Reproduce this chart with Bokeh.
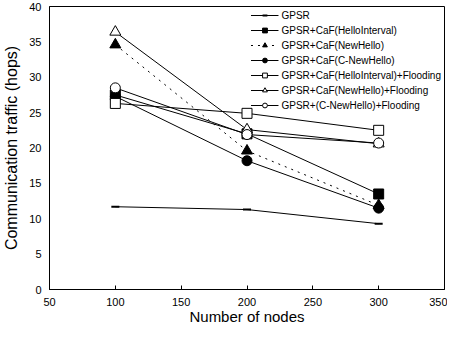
from bokeh.plotting import figure
from bokeh.models import Legend, LegendItem, FixedTicker, Range1d
from bokeh.embed import file_html
from bokeh.resources import INLINE

nodes = [100, 200, 300]
gpsr = [11.7, 11.3, 9.3]
caf_hello = [27.5, 22.0, 13.5]
caf_new = [34.6, 19.6, 11.9]
caf_cnew = [27.3, 18.2, 11.5]
caf_hello_fl = [26.3, 24.9, 22.5]
caf_new_fl = [36.4, 22.6, 20.6]
cnew_fl = [28.5, 21.9, 20.7]

x_ticks = [50, 100, 150, 200, 250, 300, 350]
y_ticks = [0, 5, 10, 15, 20, 25, 30, 35, 40]
x_title = "Number of nodes"
y_title = "Communication traffic (hops)"

FONT = "Liberation Sans"

p = figure(width=447, height=327, output_backend="svg", toolbar_location=None,
           x_range=Range1d(50, 350), y_range=Range1d(0, 40),
           min_border_left=45, min_border_right=3, min_border_top=6, min_border_bottom=36)
p.grid.visible = False
p.outline_line_color = "black"
p.outline_line_width = 1
p.background_fill_color = "white"
p.border_fill_color = "white"

p.xaxis.ticker = FixedTicker(ticks=x_ticks)
p.yaxis.ticker = FixedTicker(ticks=y_ticks)
for ax in (p.xaxis[0], p.yaxis[0]):
    ax.axis_line_color = "black"
    ax.major_label_text_font = FONT
    ax.major_label_text_font_size = "11px"
    ax.major_label_text_color = "black"
    ax.axis_label_text_font = FONT
    ax.axis_label_text_font_size = "16px"
    ax.axis_label_text_font_style = "normal"
    ax.axis_label_text_color = "black"
    ax.minor_tick_line_color = None
p.xaxis.major_tick_in = 4
p.xaxis.major_tick_out = 0
p.xaxis.major_label_standoff = 8
p.xaxis.axis_label_standoff = -1
p.xaxis.axis_label_text_font_size = "15px"
p.yaxis.major_tick_in = 0
p.yaxis.major_tick_out = 0
p.yaxis.major_label_standoff = 8
p.yaxis.axis_label_standoff = 6
p.xaxis.axis_label = x_title
p.yaxis.axis_label = y_title

items = []

def add(label, ys, marker, fill, dash="solid", size=9):
    r = p.line(nodes, ys, line_color="black", line_width=1, line_dash=dash)
    m = p.scatter(nodes, ys, marker=marker, size=size, line_color="black",
                  fill_color=fill, line_width=1)
    items.append(LegendItem(label=label, renderers=[r, m]))

r0 = p.line(nodes, gpsr, line_color="black", line_width=1)
m0 = p.scatter(nodes, gpsr, marker="dash", size=8, line_color="black", line_width=2)
items.append(LegendItem(label="GPSR", renderers=[r0, m0]))
add("GPSR+CaF(HelloInterval)", caf_hello, "square", "black", size=10)
add("GPSR+CaF(NewHello)", caf_new, "triangle", "black", dash="2 5", size=11)
add("GPSR+CaF(C-NewHello)", caf_cnew, "circle", "black", size=10)
add("GPSR+CaF(HelloInterval)+Flooding", caf_hello_fl, "square", "white", size=10)
add("GPSR+CaF(NewHello)+Flooding", caf_new_fl, "triangle", "white", size=11)
add("GPSR+(C-NewHello)+Flooding", cnew_fl, "circle", "white", size=10)

legend = Legend(items=items, location="top_right")
legend.border_line_color = None
legend.background_fill_alpha = 0
legend.label_text_font = FONT
legend.label_text_font_size = "10px"
legend.label_text_color = "black"
legend.glyph_width = 28
legend.glyph_height = 12
legend.label_height = 12
legend.spacing = 3
legend.padding = 2
legend.margin = 3
legend.label_standoff = 3
p.add_layout(legend)

open("out.html", "w").write(file_html(p, INLINE))
